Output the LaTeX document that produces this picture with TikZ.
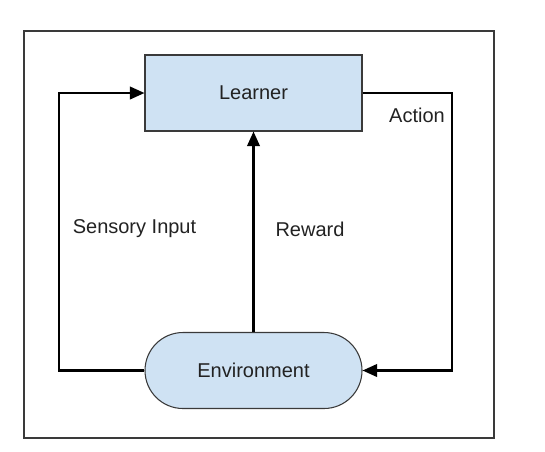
\documentclass[tikz,border=0pt]{standalone}
\usepackage{fontspec}
\setmainfont{Liberation Sans}
\usetikzlibrary{arrows.meta}

\definecolor{boxblue}{HTML}{CFE2F3}
\definecolor{boxline}{HTML}{3A3A3A}
\definecolor{textgray}{HTML}{222222}

\tikzset{
  block/.style={draw=boxline, line width=0.8pt, fill=boxblue, text=textgray,
    minimum width=162.75pt, minimum height=57pt, inner sep=0pt},
  flow/.style={line width=1.6pt, -{Triangle[length=11pt, width=9.5pt]}},
  lbl/.style={text=textgray, inner sep=0pt}
}

\begin{document}
\begin{tikzpicture}[x=0.75pt, y=-0.75pt, font=\fontsize{15}{18}\selectfont]
	\useasboundingbox (0,0) rectangle (545,451);
	
	\draw[line width=1pt, boxline] (24,31) rectangle (494,438);
	
	\node[block] (learner) at (253.5, 93) {Learner};
	\node[block, rounded corners=28.5pt] (env) at (253.5, 370.5) {Environment};
	
	\coordinate (sensorybend) at (59, 230);
	\coordinate (actionbend) at (452, 230);
	
	\node[lbl] (sensory) at (134.5, 229) {Sensory Input};
	\node[lbl] (reward) at (310, 229) {Reward};
	\node[lbl] (action) at (417, 115) {Action};
	
    \draw[flow] (env.west) -| (sensorybend) |- (learner.west);
    \draw[flow] (env.north) -- (learner.south);
    \draw[flow] (learner.east) -| (actionbend) |- (env.east);
    
\end{tikzpicture}
\end{document}
